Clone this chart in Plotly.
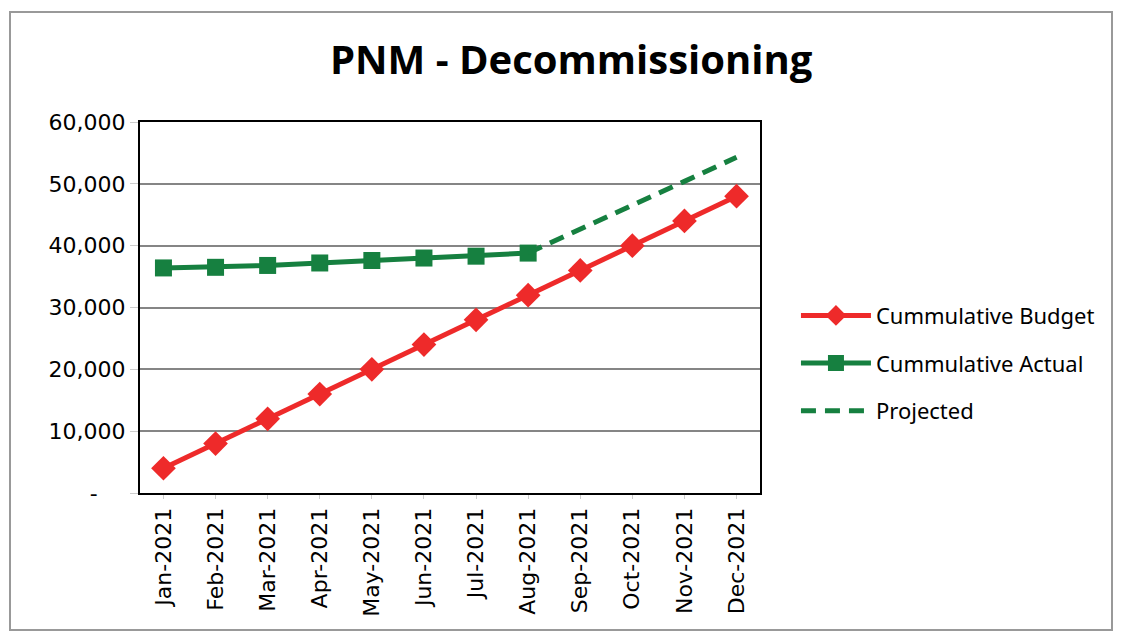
import plotly.graph_objects as go

months = ["Jan-2021", "Feb-2021", "Mar-2021", "Apr-2021", "May-2021", "Jun-2021",
          "Jul-2021", "Aug-2021", "Sep-2021", "Oct-2021", "Nov-2021", "Dec-2021"]
budget = [4000, 8000, 12000, 16000, 20000, 24000, 28000, 32000, 36000, 40000, 44000, 48000]
actual_months = months[:8]
actual = [36400, 36500, 36800, 37200, 37600, 38000, 38300, 38800]
projected_months = months[7:]
projected = [38800, 42600, 46500, 50400, 54300]
y_ticks = [0, 10000, 20000, 30000, 40000, 50000, 60000]
y_tick_labels = ["-\u00a0\u00a0\u00a0\u00a0", "10,000", "20,000", "30,000", "40,000", "50,000", "60,000"]

red = "#EE2A2A"
green = "#168040"

fig = go.Figure()
fig.add_trace(go.Scatter(
    x=months, y=budget, name="Cummulative Budget", mode="lines+markers",
    legendgroup="b",
    line=dict(color=red, width=5),
    marker=dict(symbol="diamond", size=19, color=red),
))
fig.add_trace(go.Scatter(
    x=actual_months, y=actual, name="Cummulative Actual", mode="lines+markers",
    legendgroup="a",
    line=dict(color=green, width=5),
    marker=dict(symbol="square", size=17, color=green),
))
fig.add_trace(go.Scatter(
    x=projected_months, y=projected, name="Projected", mode="lines",
    legendgroup="p",
    line=dict(color=green, width=5, dash="15px,9px"),
))

fig.update_xaxes(
    type="category", categoryorder="array", categoryarray=months,
    range=[-0.45, 11.45],
    tickangle=-90, tickfont=dict(family="DejaVu Sans", size=22, color="#000"),
    showline=True, linecolor="black", linewidth=2, mirror=True,
    showgrid=False, ticks="outside", ticklen=4, tickcolor="#ccc",
)
fig.update_yaxes(
    range=[0, 60000], tickvals=y_ticks, ticktext=y_tick_labels,
    tickfont=dict(family="DejaVu Sans", size=22, color="#000"),
    showline=True, linecolor="black", linewidth=2, mirror=True,
    showgrid=True, gridcolor="#858585", gridwidth=2, zeroline=False,
    ticks="outside", ticklen=8, tickcolor="#ccc",
)

# outer chart frame, in paper units of a 620 x 371 px plot area
fig.add_shape(type="rect", xref="paper", yref="paper",
              x0=-130 / 620, x1=(1112 - 140) / 620,
              y0=-(630 - 493) / 371, y1=(493 - 12) / 371,
              line=dict(color="#999", width=2), layer="below")

fig.update_layout(
    width=1113, height=626,
    title=dict(text="<b>PNM - Decommissioning</b>", x=0.506, xanchor="center",
               y=0.917, yanchor="middle",
               font=dict(family="Open Sans", size=40, color="#000")),
    paper_bgcolor="white", plot_bgcolor="white",
    margin=dict(l=132, r=361, t=114, b=141),
    showlegend=True,
    legend=dict(x=1.058, y=0.35, xanchor="left", yanchor="middle",
                font=dict(family="Noto Sans", size=22, color="#000"),
                itemwidth=70, tracegroupgap=16),
)

fig.write_html("out.html")
